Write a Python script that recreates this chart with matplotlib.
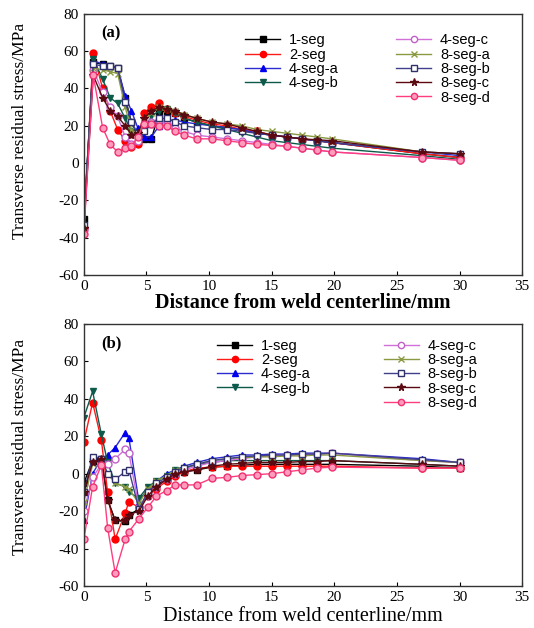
import matplotlib
matplotlib.use("Agg")
import matplotlib.pyplot as plt
from matplotlib.lines import Line2D

plt.rcParams["axes.unicode_minus"] = False

# ---------------- data ----------------
labels = ["1-seg", "2-seg", "4-seg-a", "4-seg-b", "4-seg-c",
          "8-seg-a", "8-seg-b", "8-seg-c", "8-seg-d"]

xa = [0, 0.75, 1.5, 2.1, 2.7, 3.3, 3.8, 4.3, 4.8, 5.4, 6.0, 6.6, 7.3, 8.0,
      9.0, 10.2, 11.4, 12.6, 13.8, 15.0, 16.2, 17.4, 18.6, 19.8, 27.0, 30.0]

a_1seg  = [-30, 54, 53, 52, 51, 35, 22, 14, 13, 13, 27, 28, 27, 24, 22, 20, 19, 18, 16, 15, 14, 13, 12, 11, 5, 3]
a_2seg  = [-35, 59, 40, 28, 18, 12, 8.6, 10, 27, 30, 32, 29, 27, 25, 23, 21, 20, 18, 17, 15, 14, 13, 12, 11, 5, 3]
a_4sega = [-32, 55, 53, 52, 51, 36, 28, 19, 14, 14, 20, 23, 23, 22, 21, 20, 19, 18, 16, 15, 14, 13, 12, 11, 6, 4]
a_4segb = [-33, 56, 45, 35, 32, 24, 17, 14, 18, 25, 28, 29, 27, 24, 22, 20, 18, 16, 14, 12, 11, 10, 9, 8, 4, 2]
a_4segc = [-36, 50, 38, 30, 25, 14, 10, 12, 20, 22, 23, 21, 19, 17, 15, 14, 13, 12, 11, 10, 9, 8, 7, 6, 3, 1.5]
a_8sega = [-34, 51, 50, 49, 48, 30, 18, 15, 22, 27, 30, 29, 28, 26, 24, 22, 21, 20, 18, 17, 16, 15, 14, 13, 6, 5]
a_8segb = [-33, 53, 52, 52, 51, 33, 22, 16, 17, 21, 24, 24, 22, 20, 19, 18, 18, 17, 16, 15, 14, 13, 12, 11, 6, 5]
a_8segc = [-35, 47, 35, 28, 25, 20, 15, 16, 24, 28, 30, 29, 28, 26, 24, 22, 21, 19, 17, 15, 14, 13, 12.5, 12, 6, 5]
a_8segd = [-38, 47, 19, 10, 6, 8, 9, 14, 21, 21, 20, 20, 17, 15, 13, 13, 12, 11, 10, 9.5, 9, 8, 7, 6, 3, 1.5]

xb = [0, 0.7, 1.4, 1.9, 2.5, 3.3, 3.6, 4.4, 5.1, 5.8, 6.6, 7.3, 8.0,
      9.0, 10.2, 11.4, 12.6, 13.8, 15.0, 16.2, 17.4, 18.6, 19.8, 27.0, 30.0]

b_1seg  = [-5, 7, 8, -14, -25, -25.5, -22, -19, -10, -6, -3, 0, 1, 2, 3.5, 4, 4.5, 5, 5, 5, 5, 5, 5, 4, 3]
b_2seg  = [17, 38, 18, -10, -35, -21, -15, -18, -12, -8, -4, -1, 1, 3, 3.5, 4, 4, 4, 4, 4, 4, 4, 4, 3, 3]
b_4sega = [-25, 0, 8, 10, 14, 22, 19, -15, -8, -4, 0, 2, 4, 6, 8, 9, 10, 10, 10.5, 10.5, 11, 11, 11, 8, 6]
b_4segb = [30, 44, 21, 6, -5, -7, -10, -13, -7, -4, -1, 2, 3, 5, 6, 7, 7, 7, 7, 7, 7, 7, 7, 5, 4]
b_4segc = [-20, -2, 5, 5, 8, 13, 11, -18, -12, -7, -3, 0, 2, 4, 6, 7, 8, 9, 9.5, 10, 10, 10.5, 11, 7, 6]
b_8sega = [-15, 5, 8, 0, -5, -7, -8, -16, -8, -4, -1, 2, 3, 5, 7, 8, 8.5, 9, 9, 9.5, 9.5, 10, 10, 7, 6]
b_8segb = [-10, 9, 8, 0, -3, 1, 2, -19, -10, -5, -2, 1, 3, 5, 7, 8, 9, 9.5, 10, 10, 10.5, 10.5, 11, 7.5, 6]
b_8segc = [-10, 6, 8, -14, -25, -25, -22, -20, -12, -7, -3, 0, 1, 2, 4, 5, 5.5, 6, 6, 6, 6.5, 6.5, 7, 5, 4]
b_8segd = [-35, -7, 4.6, -29, -53, -35, -31, -24, -18, -12, -9, -6, -6, -6, -2.5, -2, -1, -0.5, 0, 1, 2, 3, 3.5, 3, 3]

xticks = [0, 5, 10, 15, 20, 25, 30, 35]
yticks = [-60, -40, -20, 0, 20, 40, 60, 80]

# ---------------- styles ----------------
styles = [
    dict(color="#000000", marker="s", mfc="#000000", mec="#000000"),
    dict(color="#ff1a1a", marker="o", mfc="#ff0000", mec="#ff0000"),
    dict(color="#2b2bd0", marker="^", mfc="#0000ee", mec="#0000ee"),
    dict(color="#0e5a4a", marker="v", mfc="#0e5a4a", mec="#0e5a4a"),
    dict(color="#d070d8", marker="o", mfc="white", mec="#c060c8"),
    dict(color="#8a9a40", marker="x", mfc="#8a9a40", mec="#8a9a40"),
    dict(color="#40408a", marker="s", mfc="white", mec="#30306a"),
    dict(color="#5a0a10", marker="*", mfc="#5a0a10", mec="#5a0a10"),
    dict(color="#ff3d7f", marker="o", mfc="#ff9cbc", mec="#ee3070"),
]

panels = [
    (xa, [a_1seg, a_2seg, a_4sega, a_4segb, a_4segc, a_8sega, a_8segb, a_8segc, a_8segd], "(a)",
     dict(anchor=(0.368, 0.925), colsp=3.95, xl_pad=0, xl_w="bold", xl_fs=14.5, yl_y=0.55)),
    (xb, [b_1seg, b_2seg, b_4sega, b_4segb, b_4segc, b_8sega, b_8segb, b_8segc, b_8segd], "(b)",
     dict(anchor=(0.304, 0.944), colsp=5.0, xl_pad=2, xl_w="normal", xl_fs=14.5, yl_y=0.53)),
]

fig = plt.figure(figsize=(5.34, 6.28), dpi=100)
rects = [[0.157, 0.562, 0.821, 0.416], [0.157, 0.067, 0.821, 0.417]]

serif = "Liberation Serif"
sans = "Liberation Sans"

for rect, (x, ys, tag, lg) in zip(rects, panels):
    ax = fig.add_axes(rect)
    handles = []
    for y, lab, st in zip(ys, labels, styles):
        h, = ax.plot(x, y, color=st["color"], lw=1.0, marker=st["marker"],
                     ms=5 if st["marker"] != "*" else 6,
                     mfc=st["mfc"], mec=st["mec"], mew=1.0, label=lab)
        handles.append(h)
    ax.set_xlim(0, 35)
    ax.set_ylim(-60, 80)
    ax.set_xticks(xticks)
    ax.set_yticks(yticks)
    ax.tick_params(direction="in", length=3, width=0.8, labelsize=11)
    for lbl in ax.get_xticklabels() + ax.get_yticklabels():
        lbl.set_family(serif)
    for sp in ax.spines.values():
        sp.set_linewidth(1.0)
        sp.set_color("#333333")
    ax.set_xlabel("Distance from weld centerline/mm", family=serif,
                  fontsize=lg["xl_fs"], fontweight=lg["xl_w"], labelpad=lg["xl_pad"])
    ax.set_ylabel("Transverse residual stress/MPa", family=serif,
                  fontsize=12.5)
    ax.yaxis.set_label_coords(-0.128, lg["yl_y"])
    ax.text(0.04, 0.955, tag, transform=ax.transAxes, family=serif,
            fontsize=12, fontweight="bold", va="top", ha="left")
    blank = Line2D([], [], linestyle="none", marker=None)
    hs = handles[:4] + [blank] + handles[4:]
    ls = labels[:4] + [""] + labels[4:]
    ax.legend(hs, ls, ncol=2, loc="upper left", bbox_to_anchor=lg["anchor"],
              frameon=False, prop={"family": sans, "size": 10.5},
              handlelength=2.4, handletextpad=0.6, labelspacing=0.02,
              columnspacing=lg["colsp"], borderaxespad=0, borderpad=0,
              markerscale=0.9)

fig.savefig("out.png", dpi=100)
